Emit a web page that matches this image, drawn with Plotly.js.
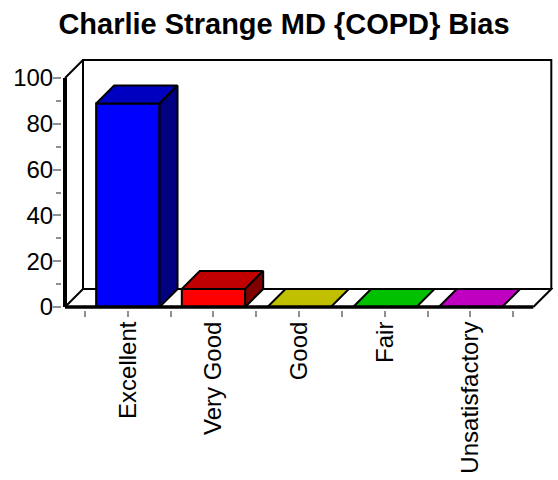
<!DOCTYPE html>
<html>
<head>
<meta charset="utf-8">
<script src="https://cdn.plot.ly/plotly-3.0.1.min.js"></script>
<style>
  html, body { margin: 0; padding: 0; background: #fff; }
  #chart { width: 558px; height: 480px; }
</style>
</head>
<body>
<div id="chart"></div>
<script>
// Rating categories and share of responses (%)
const categories = ['Excellent', 'Very Good', 'Good', 'Fair', 'Unsatisfactory'];
const values = [88.9, 7.9, 0, 0, 0];

// Face colours for each box: front, top, right side
const frontColors = ['#0000FF', '#FF0000', '#FFFF00', '#00FF00', '#FF00FF'];
const topColors = ['#0000C0', '#C00000', '#C0C000', '#00C000', '#C000C0'];
const sideColors = ['#000080', '#800000', '#808000', '#008000', '#800080'];

// Axis ticks
const yTickVals = [0, 20, 40, 60, 80, 100];
const yMinorVals = [10, 30, 50, 70, 90];

// ---- geometry of the pseudo-3D box ----
const W = 558, H = 480;
const plotL = 62, plotR = 553, plotT = 59, plotB = 310;
const pxPerX = 85.66;            // pixels per category
const pxPerY = 2.29;             // pixels per percent
const depthPx = 18;              // depth offset (right and up)
const dX = depthPx / pxPerX;
const dY = depthPx / pxPerY;
const barWidth = 0.74;
const pad = 20 / pxPerX;

const n = categories.length;
const idx = categories.map((c, i) => i);
const xL = -0.5 - pad;
const xR = n - 0.5 + pad;
const yTop = 100;

const xMin = xL - (65 - plotL) / pxPerX;
const xMax = xMin + (plotR - plotL) / pxPerX;
const yMin = -(plotB - 307) / pxPerY;
const yMax = yMin + (plotB - plotT) / pxPerY;

const boundaries = [];
for (let i = 0; i <= n; i++) boundaries.push(i - 0.5);

function path(pts) {
  return 'M' + pts.map(p => p[0] + ',' + p[1]).join(' L');
}

const edge = { color: '#000000', width: 2 };

const shapes = [
  // back wall
  { type: 'path', layer: 'below', xref: 'x', yref: 'y', line: edge,
    path: path([[xL + dX, dY], [xL + dX, yTop + dY], [xR + dX, yTop + dY], [xR + dX, dY]]) },
  // floor
  { type: 'path', layer: 'below', xref: 'x', yref: 'y', line: edge,
    path: path([[xL, 0], [xL + dX, dY], [xR + dX, dY], [xR, 0]]) },
  // left wall top edge
  { type: 'path', layer: 'below', xref: 'x', yref: 'y', line: edge,
    path: path([[xL, yTop], [xL + dX, yTop + dY]]) },
  // front axis lines
  { type: 'line', layer: 'above', xref: 'x', yref: 'y', line: { color: '#000', width: 4 },
    x0: xL, x1: xL, y0: 0, y1: yTop },
  { type: 'line', layer: 'above', xref: 'x', yref: 'y', line: { color: '#000', width: 3.5 },
    x0: xL, x1: xR, y0: 0, y1: 0 }
];

const traces = [];

// front faces
traces.push({
  type: 'bar',
  x: idx,
  y: values,
  width: barWidth,
  marker: { color: frontColors, line: { color: '#000', width: 2 } },
  hoverinfo: 'skip',
  showlegend: false
});

// top and side faces
values.forEach((v, i) => {
  const x0 = i - barWidth / 2, x1 = i + barWidth / 2;
  traces.push({
    type: 'scatter', mode: 'lines', fill: 'toself',
    x: [x0, x1, x1 + dX, x0 + dX, x0],
    y: [v, v, v + dY, v + dY, v],
    fillcolor: topColors[i], line: edge,
    hoverinfo: 'skip', showlegend: false
  });
  if (v > 0) {
    traces.push({
      type: 'scatter', mode: 'lines', fill: 'toself',
      x: [x1, x1 + dX, x1 + dX, x1, x1],
      y: [0, dY, v + dY, v, 0],
      fillcolor: sideColors[i], line: edge,
      hoverinfo: 'skip', showlegend: false
    });
  }
});

const font = 'Liberation Sans, Arial, sans-serif';

const layout = {
  width: W, height: H,
  margin: { l: plotL, r: W - plotR, t: plotT, b: H - plotB, pad: 0 },
  paper_bgcolor: '#fff', plot_bgcolor: 'rgba(0,0,0,0)',
  showlegend: false,
  title: {
    text: '<b>Charlie Strange MD {COPD} Bias</b>',
    font: { family: font, size: 29, color: '#000' },
    xref: 'container', yref: 'container',
    x: 284 / W, xanchor: 'center',
    y: 1 - 23.8 / H, yanchor: 'middle'
  },
  xaxis: {
    range: [xMin, xMax], fixedrange: true,
    showgrid: false, zeroline: false, showline: false,
    tickmode: 'array', tickvals: idx, ticktext: categories,
    ticks: 'outside', ticklen: 6, tickwidth: 2, tickcolor: '#909090',
    tickangle: -90, ticklabelstandoff: -5,
    tickfont: { family: font, size: 24, color: '#000' },
    minor: { tickmode: 'array', tickvals: boundaries, ticks: 'outside', ticklen: 6, tickwidth: 2, tickcolor: '#909090', showgrid: false }
  },
  yaxis: {
    range: [yMin, yMax], fixedrange: true,
    showgrid: false, zeroline: false, showline: false,
    tickmode: 'array', tickvals: yTickVals,
    ticks: 'outside', ticklen: 8, tickwidth: 2, tickcolor: '#909090',
    ticklabelstandoff: -5,
    tickfont: { family: font, size: 24, color: '#000' },
    minor: { tickmode: 'array', tickvals: yMinorVals, ticks: 'outside', ticklen: 5, tickwidth: 2, tickcolor: '#909090', showgrid: false }
  },
  shapes: shapes
};

Plotly.newPlot('chart', traces, layout, { displayModeBar: false, staticPlot: true });
</script>
</body>
</html>
